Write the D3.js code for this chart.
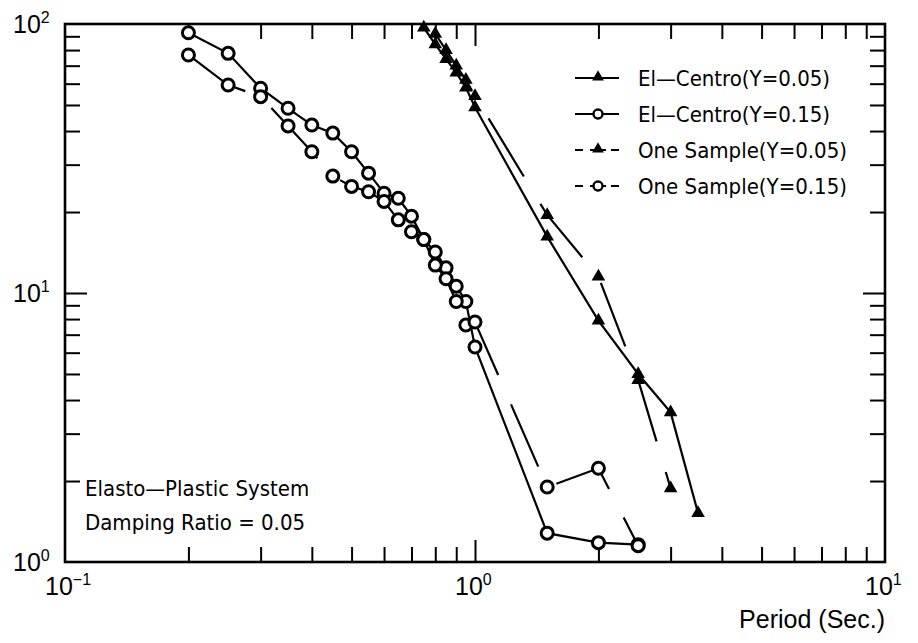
<!DOCTYPE html>
<html>
<head>
<meta charset="utf-8">
<script src="https://cdn.jsdelivr.net/npm/d3@7"></script>
<style>
  html, body { margin: 0; padding: 0; background: #fff; }
  svg { display: block; }
  .lbl { font-family: "Liberation Sans", Arial, sans-serif; fill: #000; }
  .nar { font-family: "Liberation Sans Narrow", "DejaVu Sans Condensed", "Arial Narrow", sans-serif; fill: #000; }
</style>
</head>
<body>
<svg id="chart" width="918" height="643"></svg>
<script>
// ---- data ----
const elCentro05T = [0.75, 0.8, 0.85, 0.9, 0.95, 1.0, 1.5, 2.0, 2.5, 3.0, 3.5];
const elCentro05V = [97, 84, 74, 66, 58, 49, 16.2, 7.9, 5.0, 3.6, 1.52];

const elCentro15T = [0.2, 0.25, 0.3, 0.35, 0.4, 0.45, 0.5, 0.55, 0.6, 0.65, 0.7, 0.75, 0.8, 0.85, 0.9, 0.95, 1.0, 1.5, 2.0, 2.5];
const elCentro15V = [92.8, 77.8, 57.7, 48.6, 42.1, 39.3, 33.5, 27.9, 23.5, 22.5, 19.3, 15.8, 14.2, 12.4, 10.6, 9.3, 6.3, 1.28, 1.18, 1.16];

const oneSample05T = [0.8, 0.85, 0.9, 0.95, 1.0, 1.5, 2.0, 2.5, 3.0];
const oneSample05V = [92, 80, 70, 62, 54, 19.5, 11.5, 4.75, 1.88];

const oneSample15T = [0.2, 0.25, 0.3, 0.35, 0.4, 0.45, 0.5, 0.55, 0.6, 0.65, 0.7, 0.75, 0.8, 0.85, 0.9, 0.95, 1.0, 1.5, 2.0, 2.5];
const oneSample15V = [76.7, 59.3, 53.7, 41.8, 33.5, 27.2, 24.9, 23.8, 21.9, 18.7, 16.9, 15.8, 12.7, 11.3, 9.3, 7.6, 7.8, 1.9, 2.23, 1.15];

const seriesNames = ["El—Centro(Y=0.05)", "El—Centro(Y=0.15)", "One Sample(Y=0.05)", "One Sample(Y=0.15)"];
const xMajor = [0.1, 1, 10];
const xMajorLabels = [["10", "−1"], ["10", "0"], ["10", "1"]];
const yMajor = [1, 10, 100];
const yMajorLabels = [["10", "0"], ["10", "1"], ["10", "2"]];
const xTitle = "Period (Sec.)";
const noteLines = ["Elasto—Plastic System", "Damping Ratio = 0.05"];

// ---- layout ----
const L = 65, R = 885, T = 24, B = 562;
const svg = d3.select("#chart");
const x = d3.scaleLog().domain([0.1, 10]).range([L, R]);
const y = d3.scaleLog().domain([1, 100]).range([B, T]);

const minorX = [];
[0.1, 1].forEach(d => { for (let k = 2; k <= 9; k++) minorX.push(+(d * k).toFixed(3)); });
const minorY = [];
[1, 10].forEach(d => { for (let k = 2; k <= 9; k++) minorY.push(d * k); });

function axisG(axis, tx, ty) {
  const g = svg.append("g").attr("transform", `translate(${tx},${ty})`).call(axis);
  g.select(".domain").remove();
  g.selectAll(".tick line").attr("stroke", "#000").attr("stroke-width", 2);
  g.selectAll(".tick text").remove();
  return g;
}
// inward ticks
axisG(d3.axisBottom(x).tickValues(minorX).tickSize(-15).tickFormat(""), 0, B);
axisG(d3.axisBottom(x).tickValues([1]).tickSize(-22).tickFormat(""), 0, B);
axisG(d3.axisTop(x).tickValues(minorX).tickSize(-15).tickFormat(""), 0, T);
axisG(d3.axisTop(x).tickValues([1]).tickSize(-22).tickFormat(""), 0, T);
axisG(d3.axisLeft(y).tickValues(minorY).tickSize(-15).tickFormat(""), L, 0);
axisG(d3.axisLeft(y).tickValues([10]).tickSize(-22).tickFormat(""), L, 0);
axisG(d3.axisRight(y).tickValues(minorY).tickSize(-15).tickFormat(""), R, 0);
axisG(d3.axisRight(y).tickValues([10]).tickSize(-22).tickFormat(""), R, 0);

// frame
svg.append("rect").attr("x", L).attr("y", T).attr("width", R - L).attr("height", B - T)
  .attr("fill", "none").attr("stroke", "#000").attr("stroke-width", 2.6);

// tick labels
xMajor.forEach((v, i) => {
  const t = svg.append("text").attr("class", "lbl").attr("x", x(v) - 20).attr("y", B + 33)
    .attr("font-size", 25);
  t.append("tspan").text(xMajorLabels[i][0]);
  t.append("tspan").attr("dy", -10).attr("font-size", 16).text(xMajorLabels[i][1]);
});
yMajor.forEach((v, i) => {
  const t = svg.append("text").attr("class", "lbl").attr("x", 13).attr("y", y(v) + 9)
    .attr("font-size", 25);
  t.append("tspan").text(yMajorLabels[i][0]);
  t.append("tspan").attr("dy", -10).attr("font-size", 16).text(yMajorLabels[i][1]);
});

svg.append("text").attr("class", "lbl").attr("x", R).attr("y", 628).attr("text-anchor", "end")
  .attr("font-size", 25).text(xTitle);

// ---- series ----
const series = [
  { t: elCentro05T, v: elCentro05V, dash: null, mark: "tri" },
  { t: elCentro15T, v: elCentro15V, dash: null, mark: "circ" },
  { t: oneSample05T, v: oneSample05V, dash: "68,32", mark: "tri" },
  { t: oneSample15T, v: oneSample15V, dash: "68,32", mark: "circ" }
];
const line = d3.line().x(d => x(d[0])).y(d => y(d[1]));
const tri = d3.symbol().type(d3.symbolTriangle).size(80);

series.forEach(s => {
  const pts = s.t.map((t, i) => [t, s.v[i]]);
  svg.append("path").datum(pts).attr("d", line).attr("fill", "none")
    .attr("stroke", "#000").attr("stroke-width", 2.2)
    .attr("stroke-dasharray", s.dash);
});
series.forEach(s => {
  const pts = s.t.map((t, i) => [t, s.v[i]]);
  if (s.mark === "tri") {
    svg.append("g").selectAll("path").data(pts).join("path")
      .attr("d", tri).attr("transform", d => `translate(${x(d[0])},${y(d[1])})`)
      .attr("fill", "#000");
  } else {
    svg.append("g").selectAll("circle").data(pts).join("circle")
      .attr("cx", d => x(d[0])).attr("cy", d => y(d[1])).attr("r", 6)
      .attr("fill", "#fff").attr("stroke", "#000").attr("stroke-width", 3);
  }
});

// ---- legend ----
const legX = 575, legY0 = 78, legDy = 36;
series.forEach((s, i) => {
  const cy = legY0 + i * legDy;
  if (s.dash) {
    svg.append("line").attr("x1", legX).attr("x2", legX + 8).attr("y1", cy).attr("y2", cy)
      .attr("stroke", "#000").attr("stroke-width", 2);
    svg.append("line").attr("x1", legX + 36).attr("x2", legX + 44).attr("y1", cy).attr("y2", cy)
      .attr("stroke", "#000").attr("stroke-width", 2);
    svg.append("line").attr("x1", legX + 15).attr("x2", legX + 31).attr("y1", cy).attr("y2", cy)
      .attr("stroke", "#000").attr("stroke-width", 2);
  } else {
    svg.append("line").attr("x1", legX).attr("x2", legX + 44).attr("y1", cy).attr("y2", cy)
      .attr("stroke", "#000").attr("stroke-width", 2);
  }
  if (s.mark === "tri") {
    svg.append("path").attr("d", d3.symbol().type(d3.symbolTriangle).size(60))
      .attr("transform", `translate(${legX + 23},${cy - 1})`).attr("fill", "#000");
  } else {
    svg.append("circle").attr("cx", legX + 23).attr("cy", cy).attr("r", 4.5)
      .attr("fill", "#fff").attr("stroke", "#000").attr("stroke-width", 2.4);
  }
  svg.append("text").attr("class", "nar").attr("x", legX + 63).attr("y", cy + 8)
    .attr("font-size", 22).text(seriesNames[i]);
});

// ---- annotation ----
noteLines.forEach((txt, i) => {
  svg.append("text").attr("class", "nar").attr("x", 85).attr("y", 496 + i * 34)
    .attr("font-size", 22).text(txt);
});
</script>
</body>
</html>
